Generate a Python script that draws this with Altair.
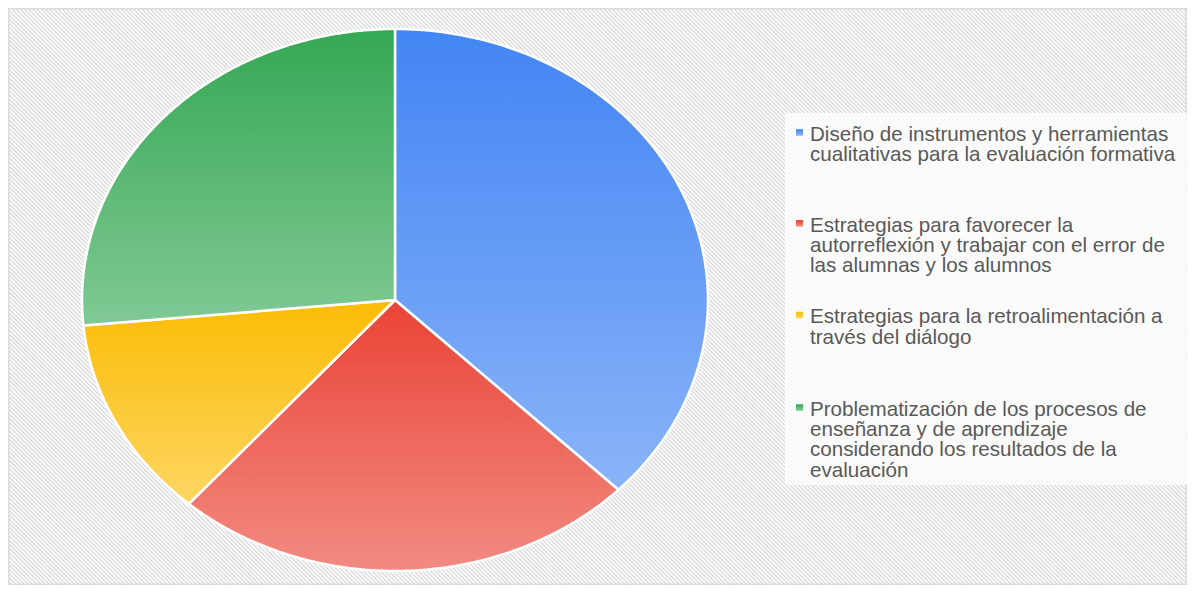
import altair as alt
import pandas as pd

# ---- data ----
categories = [
    "Diseño de instrumentos y herramientas cualitativas para la evaluación formativa",
    "Estrategias para favorecer la autorreflexión y trabajar con el error de las alumnas y los alumnos",
    "Estrategias para la retroalimentación a través del diálogo",
    "Problematización de los procesos de enseñanza y de aprendizaje considerando los resultados de la evaluación",
]
values = [31, 20, 10, 22]
legend_lines = [
    ["Diseño de instrumentos y herramientas", "cualitativas para la evaluación formativa"],
    ["Estrategias para favorecer la", "autorreflexión y trabajar con el error de", "las alumnas y los alumnos"],
    ["Estrategias para la retroalimentación a", "través del diálogo"],
    ["Problematización de los procesos de", "enseñanza y de aprendizaje", "considerando los resultados de la", "evaluación"],
]
top_colors = ["#4285F4", "#EA4335", "#FBBC04", "#34A853"]
bottom_colors = ["#8AB4F8", "#F28B82", "#FDD663", "#81C995"]

W, H = 1179, 577
N = 120

slices = pd.DataFrame({
    "cat": categories,
    "value": values,
    "order": list(range(len(categories))),
    "steps": [list(range(-1, N + 2)) for _ in categories],
})


def grad(c1, c2):
    return {"gradient": "linear", "x1": 0, "y1": 0, "x2": 0, "y2": 1,
            "stops": [{"offset": 0, "color": c1}, {"offset": 1, "color": c2}]}


# ---- background hatch ----
hatch = alt.Chart(alt.sequence(-H, W + 4, 4.2, as_="x0")).transform_calculate(
    x1=f"datum.x0 + {H}"
).mark_rule(clip=True, stroke="#dedede", strokeWidth=1.6).encode(
    x=alt.X("x0:Q", scale=None),
    x2="x1:Q",
    y=alt.value(0),
    y2=alt.value(H),
)

# ---- pie (elliptical, drawn through x/y scales) ----
base = alt.Chart(slices).transform_window(
    cum="sum(value)", sort=[alt.SortField("order")]
).transform_joinaggregate(
    total="sum(value)"
).transform_flatten(
    ["steps"], as_=["k"]
).transform_calculate(
    t0="2*PI*(datum.cum-datum.value)/datum.total",
    t1="2*PI*datum.cum/datum.total",
).transform_calculate(
    theta=f"datum.t0 + (datum.t1-datum.t0)*clamp(datum.k,0,{N})/{N}",
    inner=f"datum.k < 0 || datum.k > {N}",
).transform_calculate(
    px="datum.inner ? 0 : sin(datum.theta)",
    py="datum.inner ? 0 : cos(datum.theta)",
)

xs = alt.Scale(domain=[-1, 1], range=[74, 700], nice=False, zero=False)
ys = alt.Scale(domain=[-1, 1], range=[563, 21], nice=False, zero=False)

pie_layers = []
for i in range(len(categories)):
    pie_layers.append(
        base.transform_filter(f"datum.order == {i}").mark_line(
            fill=grad(top_colors[i], bottom_colors[i]),
            stroke="white", strokeWidth=2.5, strokeJoin="round",
        ).encode(
            x=alt.X("px:Q", scale=xs, axis=None),
            y=alt.Y("py:Q", scale=ys, axis=None),
            order=alt.Order("k:Q"),
        )
    )

# ---- legend ----
legend_box = alt.Chart(pd.DataFrame({"a": [0]})).mark_rect(
    fill="white", fillOpacity=0.75
).encode(
    x=alt.value(777), x2=alt.value(W), y=alt.value(105), y2=alt.value(477)
)

baselines = [132.7, 223.5, 315.3, 407.7]
legend_layers = []
for i in range(len(categories)):
    ldf = pd.DataFrame({"label": ["\n".join(legend_lines[i])]})
    legend_layers.append(
        alt.Chart(ldf).mark_text(
            align="left", baseline="alphabetic", lineBreak="\n", lineHeight=20.3,
            font="Liberation Sans", fontSize=20.6, color="#595959",
        ).encode(text="label:N", x=alt.value(802), y=alt.value(baselines[i]))
    )
    legend_layers.append(
        alt.Chart(ldf).mark_rect(fill=grad(top_colors[i], bottom_colors[i])).encode(
            x=alt.value(788), x2=alt.value(795),
            y=alt.value(baselines[i] - 11.5), y2=alt.value(baselines[i] - 5),
        )
    )

chart = alt.layer(hatch, *pie_layers, legend_box, *legend_layers).resolve_scale(
    x="independent", y="independent"
).properties(
    width=W, height=H, padding=0, autosize=alt.AutoSizeParams(type="none"),
    background="white",
).configure_view(stroke="#d9d9d9", strokeWidth=3)

chart.save("out.html", embed_options={"renderer": "svg", "actions": False})
